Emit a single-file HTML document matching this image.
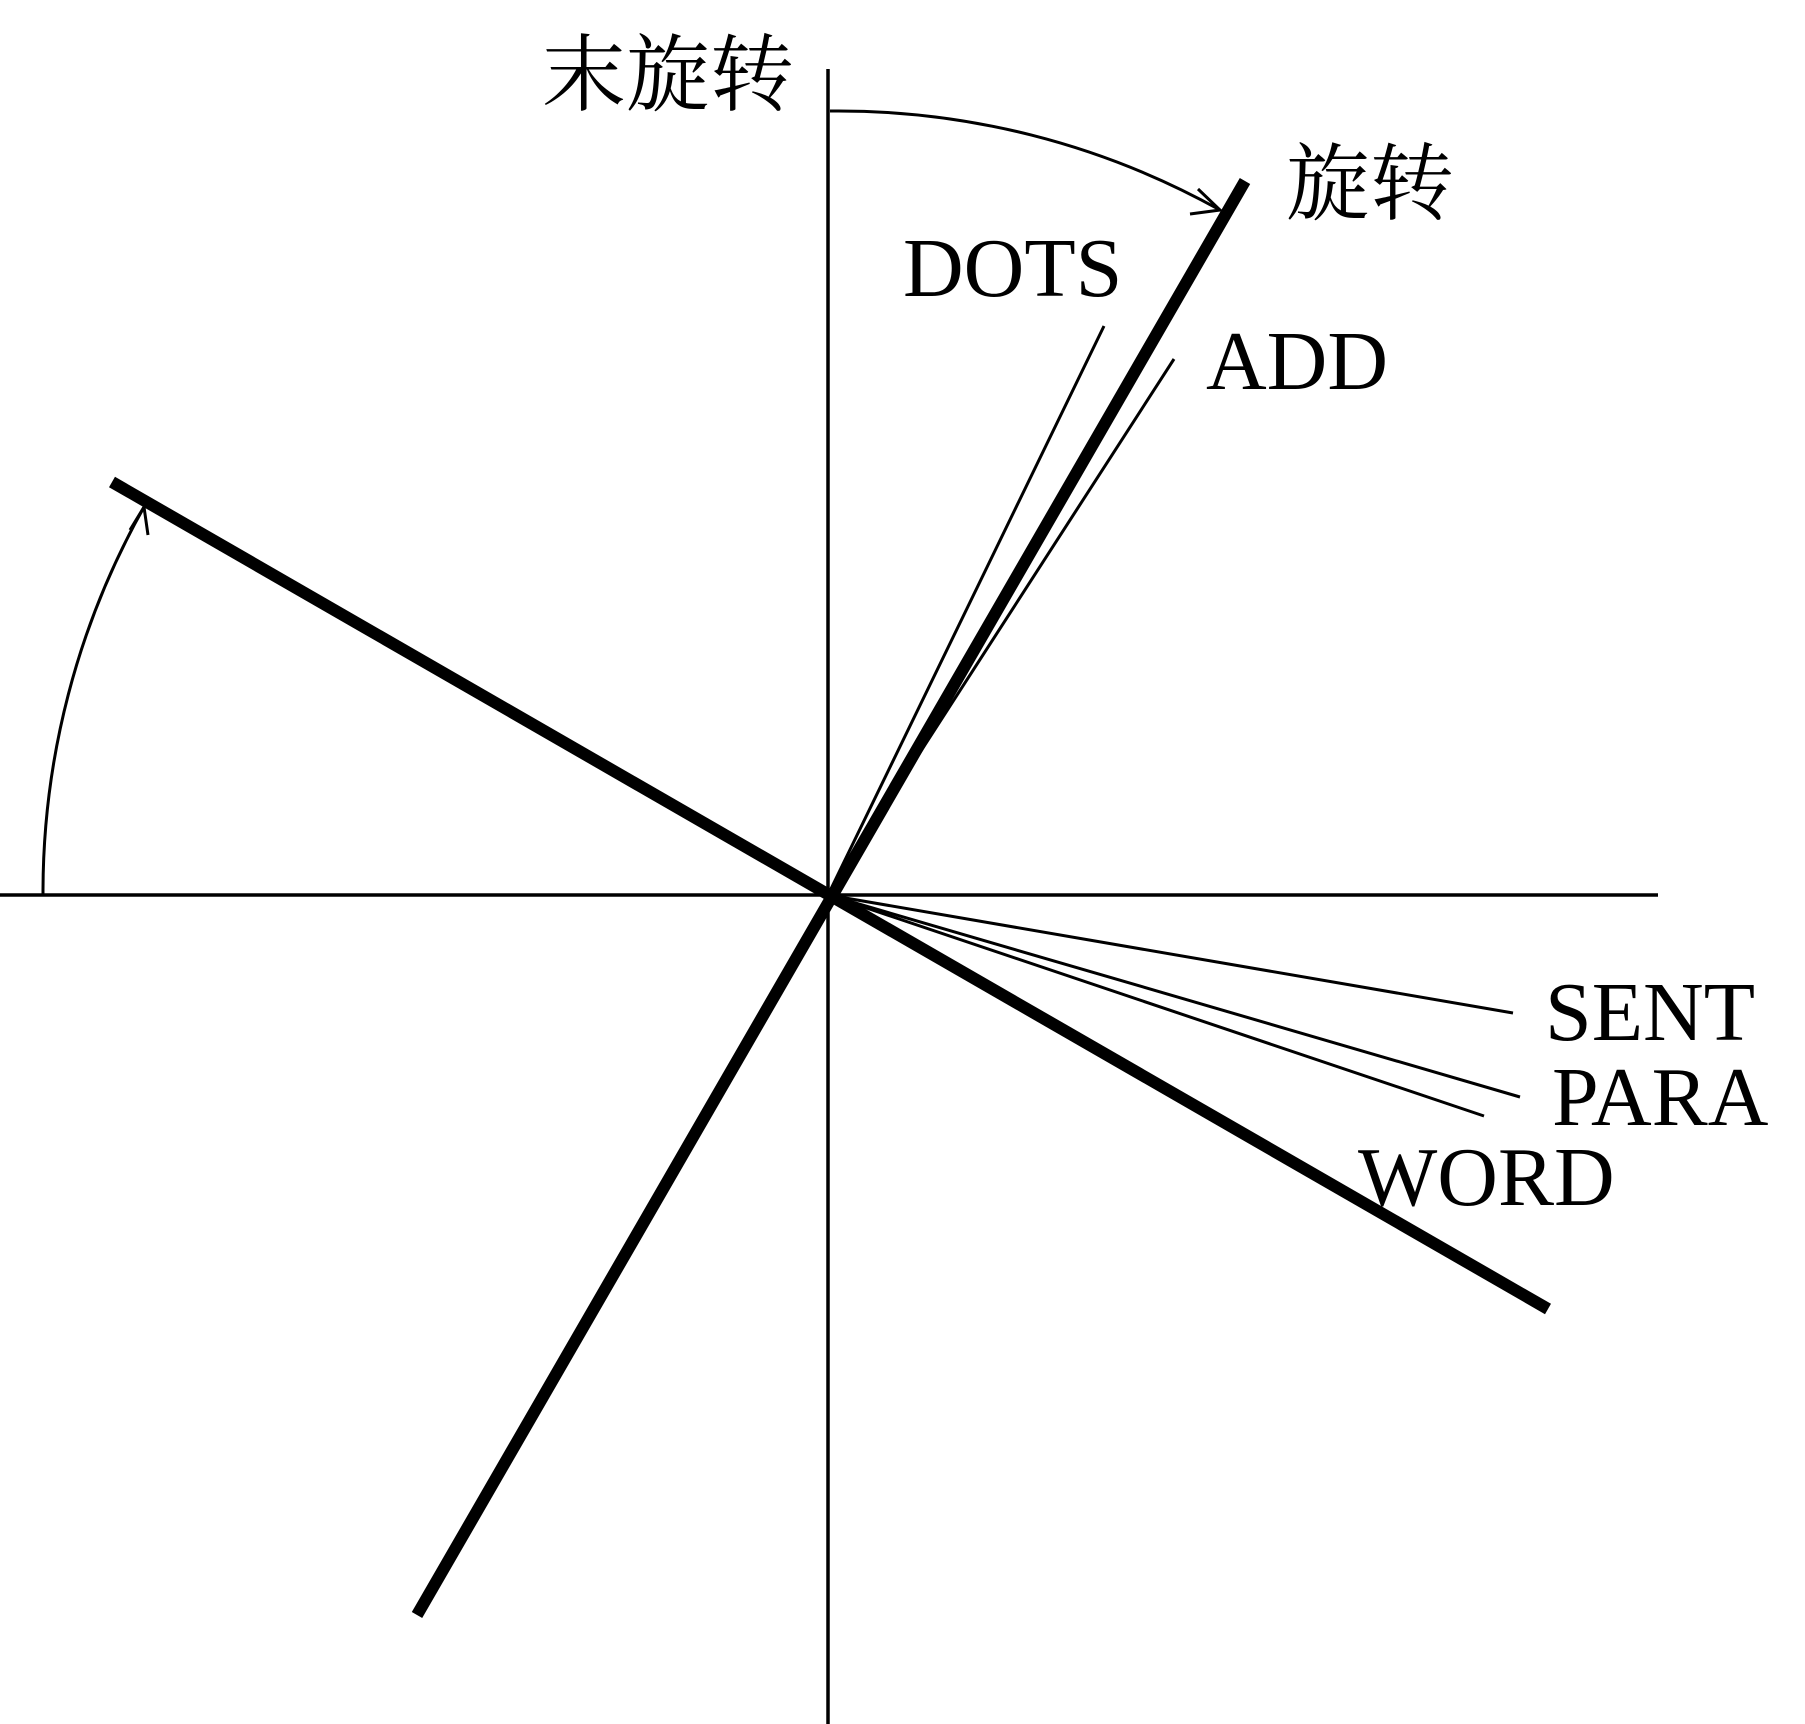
<!DOCTYPE html>
<html><head><meta charset="utf-8"><style>html,body{margin:0;padding:0;background:#fff}svg{display:block}</style></head>
<body>
<svg width="1805" height="1724" viewBox="0 0 1805 1724" xmlns="http://www.w3.org/2000/svg">
<g stroke="#000" fill="none">
<line x1="828" y1="69" x2="828" y2="1724" stroke-width="3.5"/>
<line x1="0" y1="895" x2="1658" y2="895" stroke-width="3.5"/>
<line x1="112" y1="482" x2="1548" y2="1309" stroke-width="12"/>
<line x1="1245" y1="181" x2="417" y2="1615" stroke-width="12"/>
<line x1="1104" y1="326" x2="828" y2="895" stroke-width="3"/>
<line x1="1174" y1="359" x2="828" y2="895" stroke-width="3"/>
<line x1="828" y1="895" x2="1513" y2="1013" stroke-width="3"/>
<line x1="828" y1="895" x2="1520" y2="1097" stroke-width="3"/>
<line x1="828" y1="895" x2="1484" y2="1116" stroke-width="3"/>
<path d="M830 111 A785 785 0 0 1 1220 210" stroke-width="3"/>
<path d="M1198 189 L1220 210 L1190 214" stroke-width="3"/>
<path d="M43 895 A785 785 0 0 1 144 507" stroke-width="3"/>
<path d="M130 530 L144 507 L148 535" stroke-width="3"/>
</g>
<g font-family="'Liberation Serif','Noto Serif CJK SC',serif" font-size="84" fill="#000">
<text x="542" y="104">末旋转</text>
<text x="1286" y="213">旋转</text>
<text x="903" y="296">DOTS</text>
<text x="1206" y="389">ADD</text>
<text x="1545" y="1040">SENT</text>
<text x="1552" y="1125">PARA</text>
<text x="1358" y="1205">WORD</text>
</g>
</svg>
</body></html>
